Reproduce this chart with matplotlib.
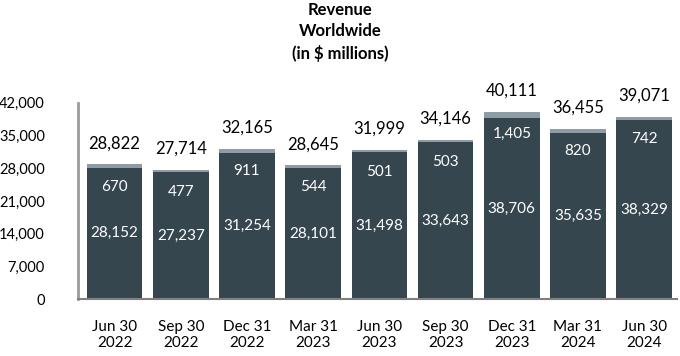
import numpy as np
import matplotlib.pyplot as plt

plt.rcParams['font.family'] = ['Lato', 'DejaVu Sans']

# Quarterly revenue worldwide, $ millions
quarters = ["Jun 30\n2022", "Sep 30\n2022", "Dec 31\n2022", "Mar 31\n2023", "Jun 30\n2023",
            "Sep 30\n2023", "Dec 31\n2023", "Mar 31\n2024", "Jun 30\n2024"]
base_rev = [28152, 27237, 31254, 28101, 31498, 33643, 38706, 35635, 38329]
other_rev = [670, 477, 911, 544, 501, 503, 1405, 820, 742]
total_rev = [28822, 27714, 32165, 28645, 31999, 34146, 40111, 36455, 39071]
y_ticks = [0, 7000, 14000, 21000, 28000, 35000, 42000]

dark = '#36464f'
light = '#8e9ca8'

fig = plt.figure(figsize=(6.8, 3.56), dpi=100)
ax = fig.add_axes([0.115, 0.160, 0.881, 0.551])

x = np.arange(len(quarters))
ax.bar(x, base_rev, width=0.84, color=dark)
ax.bar(x, other_rev, bottom=base_rev, width=0.84, color=light)

for i in range(len(x)):
    ax.text(x[i], base_rev[i] / 2, f"{base_rev[i]:,}", ha='center', va='center',
            color='white', fontsize=11)
    ax.annotate(f"{other_rev[i]:,}", (x[i], total_rev[i]), xytext=(0, -16),
                textcoords='offset points', ha='center', va='center',
                color='white', fontsize=11)
    ax.annotate(f"{total_rev[i]:,}", (x[i], total_rev[i]), xytext=(0, 15),
                textcoords='offset points', ha='center', va='center',
                color='black', fontsize=12)

ax.set_xlim(-0.55, len(x) - 0.5)
ax.set_ylim(0, 42000)
ax.set_yticks(y_ticks)
ax.set_yticklabels([f"{v:,}" for v in y_ticks], fontsize=10.5)
ax.set_xticks(x)
ax.set_xticklabels(quarters, fontsize=11, linespacing=1.15)
ax.tick_params(axis='y', length=0, pad=24)
ax.tick_params(axis='x', length=0, pad=15)

for s in ['top', 'right']:
    ax.spines[s].set_visible(False)
ax.spines['left'].set_color('#9a9a9a')
ax.spines['left'].set_linewidth(2)
ax.spines['bottom'].set_color('#808080')
ax.spines['bottom'].set_linewidth(1.5)

fig.text(0.5, 0.995, "Revenue\nWorldwide\n(in $ millions)", ha='center', va='top',
         fontsize=12, fontweight='bold', linespacing=1.4)

fig.savefig('out.png', dpi=100)
